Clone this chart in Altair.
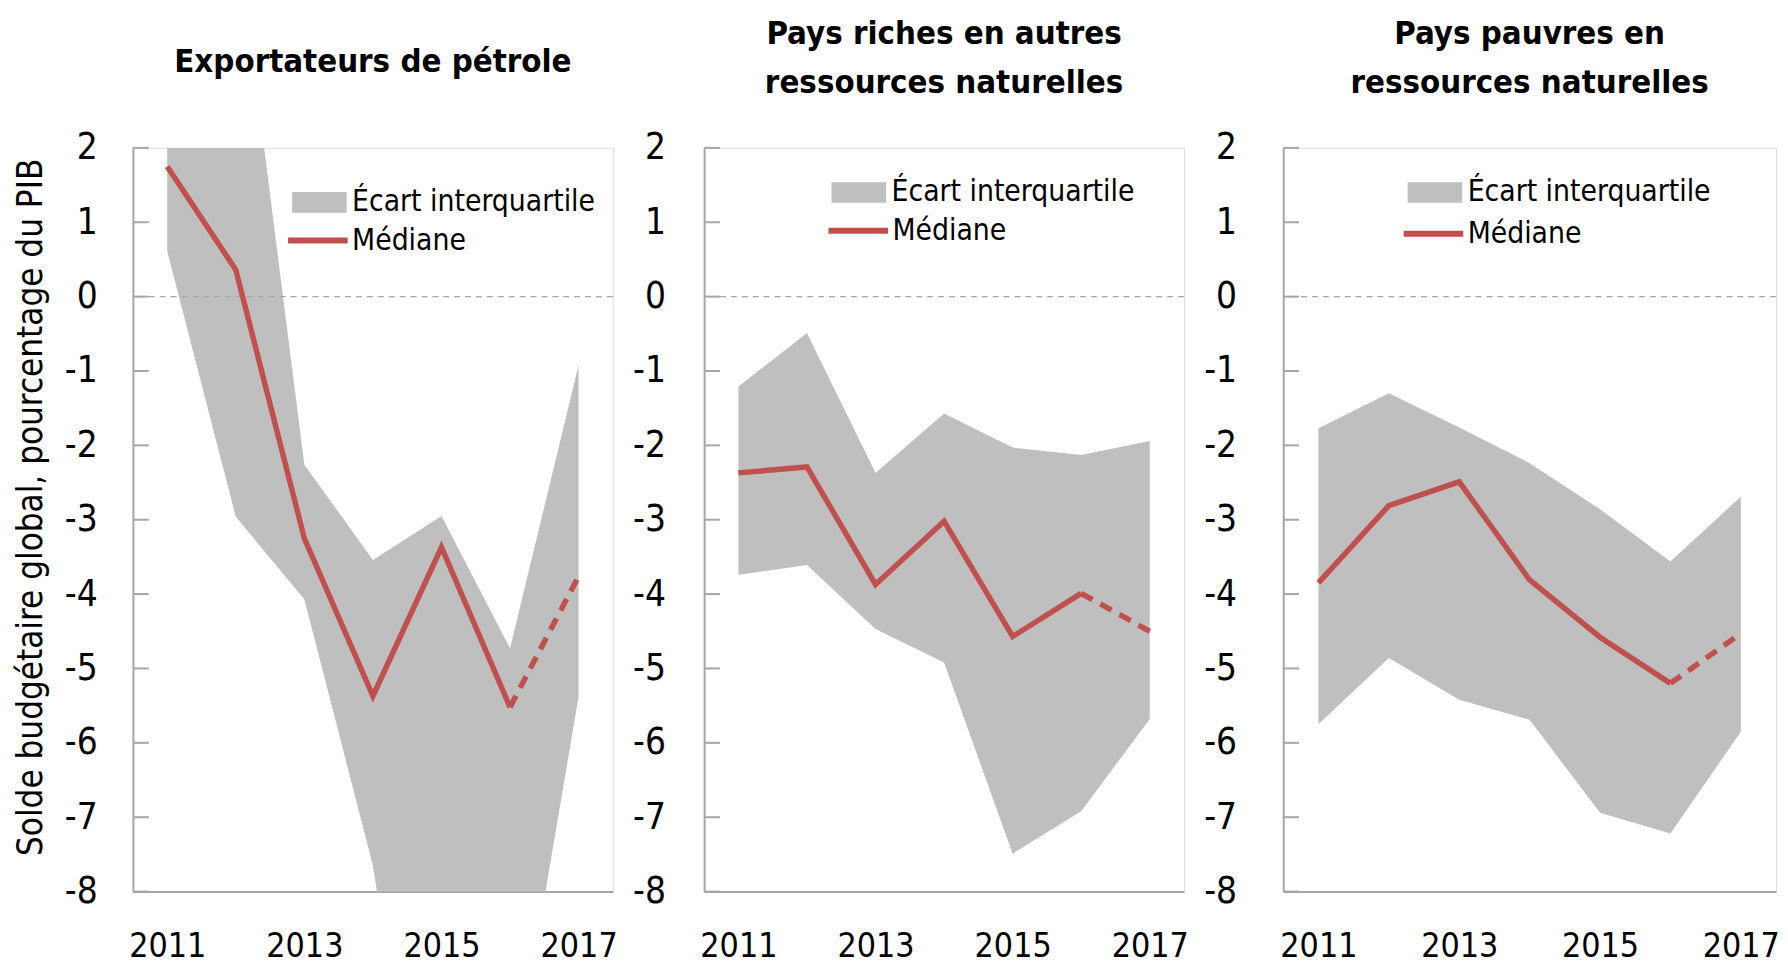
import altair as alt
import pandas as pd

years = [2011, 2012, 2013, 2014, 2015, 2016, 2017]
tick_values = [2, 1, 0, -1, -2, -3, -4, -5, -6, -7, -8]
year_labels = [2011, 2013, 2015, 2017]

titles = [
    ["Exportateurs de pétrole"],
    ["Pays riches en autres", "ressources naturelles"],
    ["Pays pauvres en", "ressources naturelles"],
]
y_title = "Solde budgétaire global, pourcentage du PIB"
band_label = "Écart interquartile"
median_label = "Médiane"

# Exportateurs de pétrole
oil_median = [1.75, 0.36, -3.25, -5.37, -3.37, -5.52, -3.76]
oil_lower = [0.61, -2.96, -4.07, -7.65, -13.5, -10.8, -5.38]
oil_upper = [4.0, 5.0, -2.26, -3.54, -2.95, -4.73, -0.92]

# Pays riches en autres ressources naturelles
rich_median = [-2.37, -2.29, -3.87, -3.02, -4.57, -3.99, -4.50]
rich_lower = [-3.74, -3.61, -4.47, -4.92, -7.49, -6.92, -5.68]
rich_upper = [-1.21, -0.49, -2.37, -1.57, -2.03, -2.13, -1.94]

# Pays pauvres en ressources naturelles
poor_median = [-3.85, -2.81, -2.49, -3.81, -4.58, -5.20, -4.53]
poor_lower = [-5.75, -4.86, -5.42, -5.69, -6.94, -7.22, -5.85]
poor_upper = [-1.77, -1.30, -1.76, -2.24, -2.86, -3.56, -2.69]

FONT = "DejaVu Sans Condensed"
GRAY_BAND = "#BFBFBF"
RED = "#C0504D"
AXIS_GRAY = "#A6A6A6"

panels = [
    dict(med=oil_median, lo=oil_lower, hi=oil_upper, w=484, ytitle=True, ypad=36,
         leg_x1=160, leg_y1=27, leg_x2=153, leg_y2=60, title_offset=51),
    dict(med=rich_median, lo=rich_lower, hi=rich_upper, w=484, ytitle=False, ypad=39,
         leg_x1=128, leg_y1=17, leg_x2=122, leg_y2=50, title_offset=29),
    dict(med=poor_median, lo=poor_lower, hi=poor_upper, w=497, ytitle=False, ypad=47,
         leg_x1=125, leg_y1=17, leg_x2=118, leg_y2=53, title_offset=29),
]


def make_panel(i, p):
    df = pd.DataFrame({
        "year": years,
        "median": p["med"],
        "lower": p["lo"],
        "upper": p["hi"],
        "band": [band_label] * len(years),
        "line": [median_label] * len(years),
        "zero": [0] * len(years),
    })
    ticks_df = pd.DataFrame({"v": tick_values})

    xs = alt.Scale(domain=[2010.5, 2017.5], nice=False, zero=False)
    ys = alt.Scale(domain=[-8, 2], nice=False, zero=False)
    x_axis = alt.Axis(values=year_labels, format="d", ticks=False, grid=False,
                      title=None, labelFontSize=34, labelFont=FONT,
                      labelColor="black", labelPadding=38, domainColor=AXIS_GRAY,
                      domainWidth=2, labelFlush=False)
    if p["ytitle"]:
        y_kwargs = dict(title=y_title, titleY=362)
    else:
        y_kwargs = dict(title=None)
    y_axis = alt.Axis(values=tick_values, labelExpr="'' + datum.value",
                      ticks=False, grid=False,
                      titleFontSize=35, titleFont=FONT, titleFontWeight="normal",
                      titleColor="black", titlePadding=16,
                      labelFontSize=37, labelFont=FONT, labelColor="black",
                      labelPadding=p["ypad"], domainColor=AXIS_GRAY, domainWidth=2,
                      **y_kwargs)

    base = alt.Chart(df)
    area = base.mark_area(clip=True, opacity=1).encode(
        x=alt.X("year:Q", scale=xs, axis=x_axis),
        y=alt.Y("lower:Q", scale=ys, axis=y_axis),
        y2="upper:Q",
        fill=alt.Fill("band:N",
                      scale=alt.Scale(domain=[band_label], range=[GRAY_BAND]),
                      legend=alt.Legend(title=None, orient="none",
                                        legendX=p["leg_x1"], legendY=p["leg_y1"],
                                        padding=0, labelLimit=600,
                                        symbolType="M-1,-0.38L1,-0.38L1,0.38L-1,0.38Z",
                                        symbolSize=3030, symbolStrokeWidth=0,
                                        labelFontSize=30, labelFont=FONT,
                                        labelColor="black", labelOffset=5)),
    )
    zero = base.mark_rule(color=AXIS_GRAY, strokeDash=[6, 5],
                          strokeWidth=1.5).encode(
        y=alt.Y("zero:Q", scale=ys, axis=y_axis),
    ).transform_filter("datum.year == 2011")
    yticks = alt.Chart(ticks_df).mark_rule(color=AXIS_GRAY, strokeWidth=2).encode(
        y=alt.Y("v:Q", scale=ys, axis=y_axis),
        x=alt.value(0), x2=alt.value(16),
    )
    solid = base.mark_line(strokeWidth=5.5, clip=True).encode(
        x=alt.X("year:Q", scale=xs, axis=x_axis),
        y=alt.Y("median:Q", scale=ys, axis=y_axis),
        stroke=alt.Stroke("line:N",
                          scale=alt.Scale(domain=[median_label], range=[RED]),
                          legend=alt.Legend(title=None, orient="none",
                                            legendX=p["leg_x2"], legendY=p["leg_y2"],
                                            padding=0, symbolType="stroke",
                                            labelLimit=600,
                                            symbolSize=3610, symbolStrokeWidth=6,
                                            labelFontSize=30, labelFont=FONT,
                                            labelColor="black", labelOffset=1)),
    ).transform_filter("datum.year <= 2016")
    dashed = base.mark_line(strokeWidth=5.5, strokeDash=[13, 9], color=RED,
                            clip=True).encode(
        x=alt.X("year:Q", scale=xs, axis=x_axis),
        y=alt.Y("median:Q", scale=ys, axis=y_axis),
    ).transform_filter("datum.year >= 2016")

    return alt.layer(area, zero, yticks, solid, dashed).properties(
        width=p["w"], height=750,
        title=alt.TitleParams(text=titles[i], fontSize=33, font=FONT,
                              fontWeight="bold", color="black", lineHeight=50,
                              anchor="middle", frame="group",
                              offset=p["title_offset"]),
    )


charts = [make_panel(i, p) for i, p in enumerate(panels)]

chart = alt.hconcat(*charts, spacing=14).resolve_scale(
    fill="independent", stroke="independent"
).resolve_legend(
    fill="independent", stroke="independent"
).properties(
    padding={"left": 5, "top": 5, "right": 0, "bottom": 0}
).configure_view(
    stroke=AXIS_GRAY, strokeWidth=2
).configure(background="white")

chart.save("out.html", embed_options={"renderer": "svg", "actions": False})
